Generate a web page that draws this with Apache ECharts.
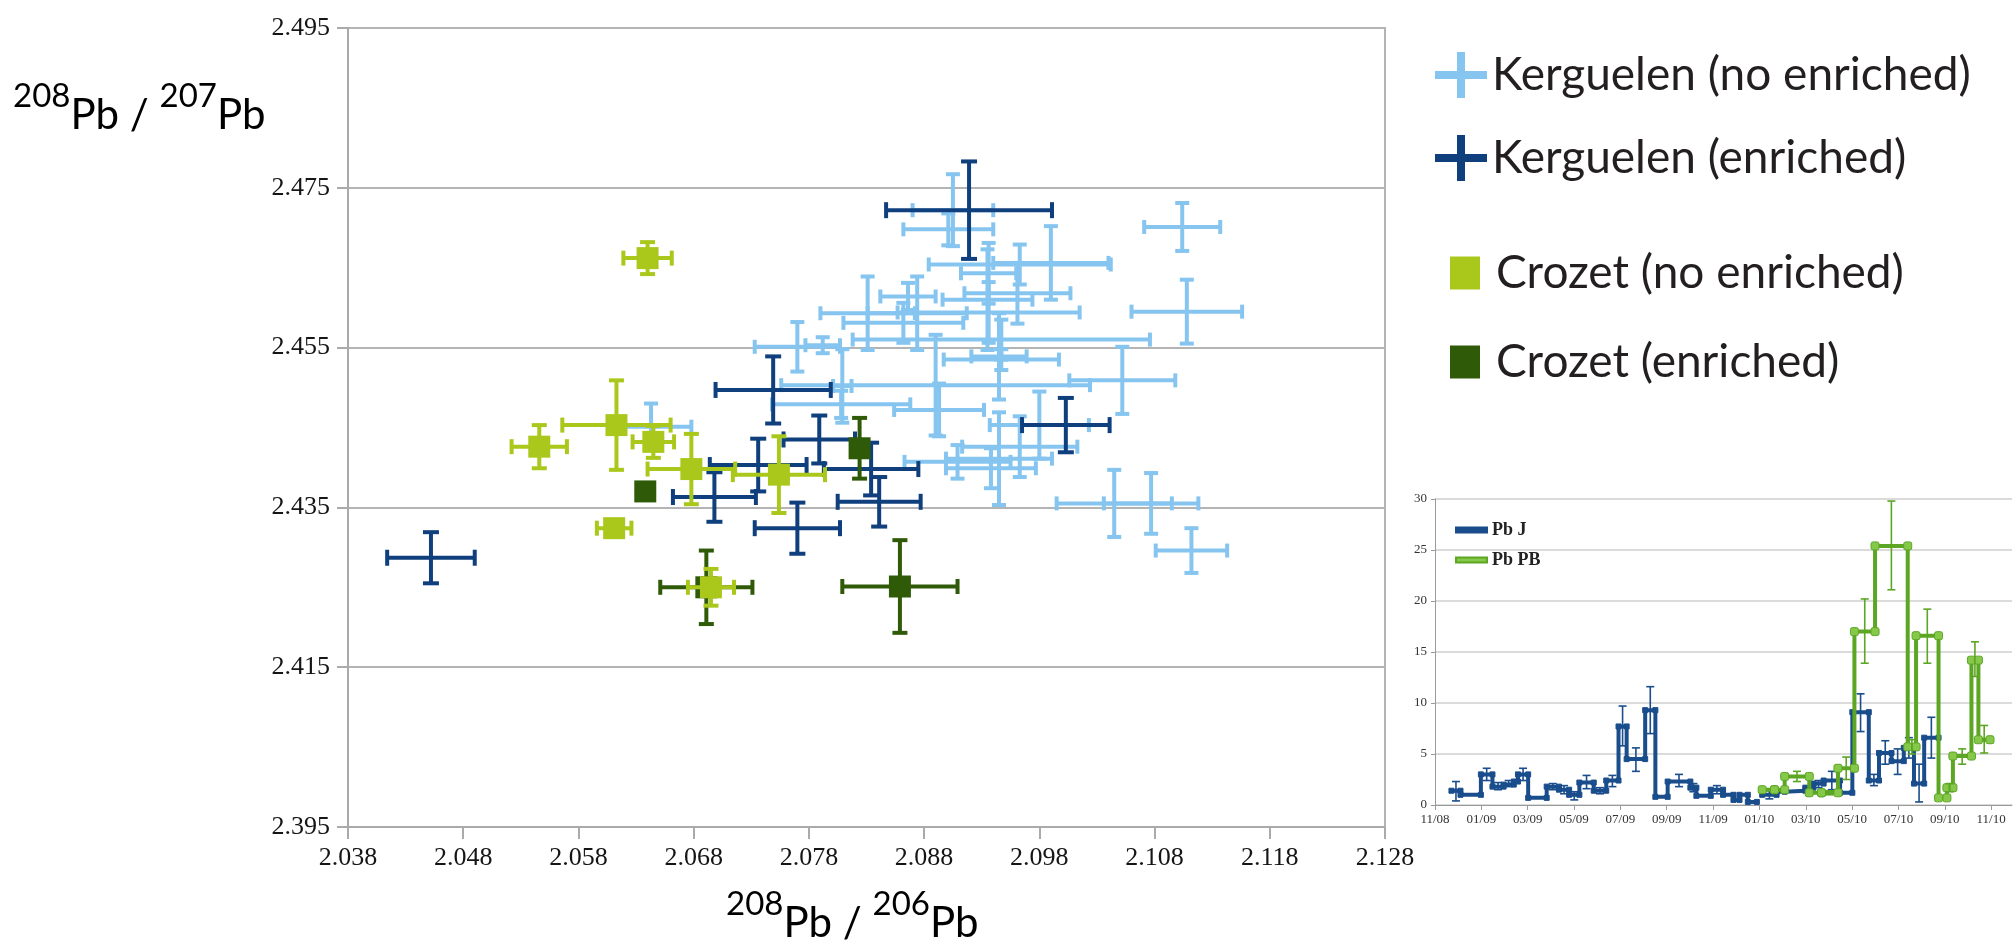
<!DOCTYPE html>
<html>
<head>
<meta charset="utf-8">
<title>Pb isotope ratios</title>
<script src="https://cdn.jsdelivr.net/npm/echarts@6.0.0/dist/echarts.min.js"></script>
<style>
html,body{margin:0;padding:0;background:#ffffff;}
#chart{width:2016px;height:944px;}
</style>
</head>
<body>
<div id="chart"></div>
<script>
// ---------------- main chart: 208Pb/206Pb (x) vs 208Pb/207Pb (y) ----------------
const xTickLabels = ['2.038','2.048','2.058','2.068','2.078','2.088','2.098','2.108','2.118','2.128'];
const yTickLabels = ['2.395','2.415','2.435','2.455','2.475','2.495'];

const kergNoX  = [2.0905,2.0901,2.0990,2.0963,2.0936,2.0935,2.0961,2.0866,2.0874,2.0831,2.0936,2.0862,2.0770,2.0792,2.0947,2.0945,2.0947,2.1052,2.0890,2.0809,2.0893,2.0808,2.0980,2.0963,2.0945,2.0938,2.1045,2.1077,2.0643,2.1104,2.1108,2.1112,2.0909];
const kergNoY  = [2.4722,2.4698,2.4656,2.4654,2.4643,2.4610,2.4618,2.4614,2.4593,2.4593,2.4594,2.4581,2.4551,2.4553,2.4560,2.4539,2.4535,2.4509,2.4503,2.4502,2.4472,2.4479,2.4453,2.4426,2.4411,2.4399,2.4355,2.4355,2.4451,2.4701,2.4595,2.4296,2.4407];
const kergNoEx = [0.0035,0.0039,0.0050,0.0079,0.0024,0.0039,0.0046,0.0024,0.0043,0.0041,0.0079,0.0052,0.0037,0.0015,0.0129,0.0024,0.0050,0.0046,0.0134,0.0008,0.0039,0.0060,0.0043,0.0050,0.0046,0.0039,0.0050,0.0041,0.0035,0.0033,0.0048,0.0031,0.0046];
const kergNoEy = [0.0045,0.0020,0.0046,0.0025,0.0038,0.0063,0.0038,0.0017,0.0046,0.0046,0.0038,0.0025,0.0031,0.0010,0.0025,0.0054,0.0013,0.0042,0.0063,0.0046,0.0033,0.0017,0.0042,0.0038,0.0058,0.0025,0.0042,0.0038,0.0029,0.0030,0.0040,0.0028,0.0021];

const kergEnX  = [2.0919,2.0749,2.1003,2.0789,2.0736,2.0834,2.0698,2.0841,2.0770,2.0452];
const kergEnY  = [2.4722,2.4497,2.4453,2.4435,2.4403,2.4398,2.4363,2.4357,2.4324,2.4287];
const kergEnEx = [0.0072,0.0050,0.0038,0.0031,0.0042,0.0041,0.0036,0.0036,0.0037,0.0038];
const kergEnEy = [0.0061,0.0042,0.0034,0.0030,0.0033,0.0033,0.0031,0.0031,0.0032,0.0032];

const crozNoX  = [2.0640,2.0546,2.0613,2.0611,2.0645,2.0678,2.0754,2.0695];
const crozNoY  = [2.4662,2.4426,2.4453,2.4324,2.4432,2.4398,2.4391,2.4250];
const crozNoEx = [0.0021,0.0024,0.0047,0.0015,0.0018,0.0038,0.0040,0.0020];
const crozNoEy = [0.0020,0.0027,0.0056,0.0000,0.0020,0.0044,0.0048,0.0023];

const crozEnX  = [2.0691,2.0859,2.0824,2.0638];
const crozEnY  = [2.4250,2.4251,2.4424,2.4370];
const crozEnEx = [0.0040,0.0050,0.0000,0.0000];
const crozEnEy = [0.0046,0.0058,0.0038,0.0000];

// ---------------- inset: Pb time series (months since 11/08) ----------------
const insetTickLabels = ['11/08','01/09','03/09','05/09','07/09','09/09','11/09','01/10','03/10','05/10','07/10','09/10','11/10'];

const pbjStart = [0.71,1.10,1.98,2.48,2.96,3.40,3.58,4.02,4.82,5.35,5.79,6.23,6.85,7.39,7.92,8.27,9.07,9.51,10.04,11.02,11.28,11.90,12.43,12.88,13.14,13.50,14.12,14.74,15.09,15.98,16.33,16.77,17.48,18.01,18.72,19.16,19.70,20.23,20.67,21.11];
const pbjEnd   = [1.10,1.98,2.48,2.96,3.40,3.58,4.02,4.82,5.35,5.79,6.23,6.85,7.39,7.92,8.27,9.07,9.51,10.04,11.02,11.28,11.90,12.43,12.88,13.14,13.50,13.89,14.74,15.09,15.98,16.33,16.77,17.48,18.01,18.72,19.16,19.70,20.23,20.67,21.11,21.73];
const pbjValue = [1.4,1.0,3.0,1.8,2.0,2.3,3.0,0.7,1.8,1.5,1.0,2.2,1.4,2.4,7.7,4.5,9.3,0.8,2.3,1.7,0.9,1.5,1.0,0.5,1.0,0.3,1.0,1.3,1.4,1.7,2.1,2.4,1.2,9.1,2.4,5.1,4.3,5.6,2.1,6.6];
const pbjLow   = [0.4,null,2.4,1.5,1.8,null,2.4,null,1.5,1.1,0.5,1.6,1.1,1.8,5.8,3.3,7.0,null,1.8,1.3,null,1.1,null,null,null,null,0.6,null,null,null,1.7,1.5,null,7.2,1.9,4.0,3.0,4.6,0.3,4.6];
const pbjHigh  = [2.3,null,3.6,2.2,2.4,null,3.6,null,2.1,1.9,1.3,2.9,1.7,2.9,9.7,5.6,11.6,null,3.0,2.1,null,1.9,null,null,null,null,1.4,null,null,null,2.4,3.3,null,10.9,3.0,6.3,5.5,6.6,4.0,8.6];

const pbpbStart = [14.12,14.65,15.09,16.15,16.68,17.39,18.10,18.99,20.40,20.76,21.73,22.09,22.35,23.15,23.45];
const pbpbEnd   = [14.65,15.09,16.15,16.68,17.39,18.10,18.99,20.40,20.76,21.73,22.09,22.35,23.15,23.45,23.95];
const pbpbValue = [1.5,1.5,2.8,1.2,1.2,3.6,17.0,25.4,5.7,16.6,0.7,1.7,4.8,14.2,6.4];
const pbpbLow   = [null,null,2.3,null,1.0,2.5,13.9,21.1,5.0,13.9,null,1.3,4.0,12.6,5.1];
const pbpbHigh  = [null,null,3.3,null,1.4,4.7,20.2,29.8,6.4,19.2,null,2.1,5.5,16.0,7.8];

// ---------------- helpers ----------------
const X0 = 2.038, Y0 = 2.395;            // axis origins (ratio units)
const toX = v => (v - X0) * 1000;        // axes work in thousandths from the origin
const toY = v => (v - Y0) * 1000;

const C_KNO = '#86c5ef', C_KEN = '#0f3f7c', C_CNO = '#aac81c', C_CEN = '#2f5b08';
const C_PBJ = '#1a4d8c', C_PBPB = '#5ca624';

function errorBarSeries(name, xs, ys, exs, eys, color, width, cap, z) {
  return {
    name: name, type: 'custom', xAxisIndex: 0, yAxisIndex: 0, z: z,
    itemStyle: { color: color },
    encode: { x: 0, y: 1 },
    data: xs.map((x, i) => [toX(x), toY(ys[i]), exs[i] * 1000, eys[i] * 1000]),
    renderItem: function (params, api) {
      const x = api.value(0), y = api.value(1), ex = api.value(2), ey = api.value(3);
      const st = { stroke: color, lineWidth: width };
      const kids = [];
      const seg = (a, b) => kids.push({ type: 'line', shape: { x1: a[0], y1: a[1], x2: b[0], y2: b[1] }, style: st });
      if (ex > 0) {
        const l = api.coord([x - ex, y]), r = api.coord([x + ex, y]);
        seg(l, r);
        seg([l[0], l[1] - cap / 2], [l[0], l[1] + cap / 2]);
        seg([r[0], r[1] - cap / 2], [r[0], r[1] + cap / 2]);
      }
      if (ey > 0) {
        const t = api.coord([x, y + ey]), b = api.coord([x, y - ey]);
        seg(t, b);
        seg([t[0] - cap / 2, t[1]], [t[0] + cap / 2, t[1]]);
        seg([b[0] - cap / 2, b[1]], [b[0] + cap / 2, b[1]]);
      }
      return { type: 'group', children: kids };
    }
  };
}

function squareSeries(name, xs, ys, color, z) {
  return {
    name: name, type: 'scatter', xAxisIndex: 0, yAxisIndex: 0, z: z,
    symbol: 'rect', symbolSize: 22,
    itemStyle: { color: color, opacity: 1 },
    data: xs.map((x, i) => [toX(x), toY(ys[i])])
  };
}

function stepRuns(starts, ends, vals) {
  const runs = []; let cur = [];
  for (let i = 0; i < starts.length; i++) {
    if (i > 0 && Math.abs(starts[i] - ends[i - 1]) > 0.05) { runs.push(cur); cur = []; }
    cur.push([starts[i], vals[i]], [ends[i], vals[i]]);
  }
  runs.push(cur);
  return runs;
}

function stepSeries(name, starts, ends, vals, color, symbol, symSize, symColor, z) {
  return stepRuns(starts, ends, vals).map(run => ({
    name: name, type: 'line', xAxisIndex: 1, yAxisIndex: 1, z: z,
    data: run, symbol: symbol, symbolSize: symSize, showSymbol: true,
    lineStyle: { color: color, width: 4 },
    itemStyle: { color: symColor, borderColor: color, borderWidth: 1 }
  }));
}

function insetErrSeries(name, starts, ends, lows, highs, color, z) {
  const data = [];
  starts.forEach((s, i) => { if (lows[i] != null) data.push([(s + ends[i]) / 2, lows[i], highs[i]]); });
  return {
    name: name, type: 'custom', xAxisIndex: 1, yAxisIndex: 1, z: z,
    itemStyle: { color: color },
    encode: { x: 0, y: [1, 2] },
    data: data,
    renderItem: function (params, api) {
      const x = api.value(0);
      const lo = api.coord([x, api.value(1)]), hi = api.coord([x, api.value(2)]);
      const st = { stroke: color, lineWidth: 1.6 };
      return { type: 'group', children: [
        { type: 'line', shape: { x1: lo[0], y1: lo[1], x2: hi[0], y2: hi[1] }, style: st },
        { type: 'line', shape: { x1: lo[0] - 4, y1: lo[1], x2: lo[0] + 4, y2: lo[1] }, style: st },
        { type: 'line', shape: { x1: hi[0] - 4, y1: hi[1], x2: hi[0] + 4, y2: hi[1] }, style: st }
      ]};
    }
  };
}

const plusIcon = 'path://M0,19H22V0H30V19H52V27H30V46H22V27H0Z';
const titleFont = 'Lato';
const titleRich = {
  s: { fontFamily: titleFont, fontSize: 33, color: '#231f20', verticalAlign: 'top', lineHeight: 33 },
  b: { fontFamily: titleFont, fontSize: 42, color: '#231f20', verticalAlign: 'bottom', lineHeight: 56 }
};

const chart = echarts.init(document.getElementById('chart'), null, { renderer: 'canvas' });

const option = {
  animation: false,
  backgroundColor: '#ffffff',
  textStyle: { fontFamily: 'Liberation Serif' },
  grid: [
    { left: 348, top: 28, width: 1037, height: 799, show: true, borderColor: '#b4b4b4', borderWidth: 2, backgroundColor: 'transparent' },
    { left: 1435, top: 499, width: 577, height: 306 }
  ],
  xAxis: [
    {
      type: 'value', gridIndex: 0, min: 0, max: 90, interval: 10,
      axisLine: { show: true, lineStyle: { color: '#aaaaaa', width: 2 } },
      axisTick: { show: true, length: 12, lineStyle: { color: '#aaaaaa', width: 2 } },
      splitLine: { show: false },
      axisLabel: { margin: 18, fontFamily: 'Liberation Serif', fontSize: 26, color: '#151515',
        formatter: v => xTickLabels[Math.round(v / 10)] }
    },
    {
      type: 'value', gridIndex: 1, min: 0, max: 24.9, interval: 2,
      axisLine: { show: true, lineStyle: { color: '#9a9a9a', width: 1 } },
      axisTick: { show: true, length: 5, lineStyle: { color: '#9a9a9a' } },
      splitLine: { show: false },
      axisLabel: { margin: 8, fontFamily: 'Liberation Serif', fontSize: 13, color: '#333333', showMaxLabel: false,
        formatter: v => { const k = v / 2; return Number.isInteger(k) && insetTickLabels[k] ? insetTickLabels[k] : ''; } }
    }
  ],
  yAxis: [
    {
      type: 'value', gridIndex: 0, min: 0, max: 100, interval: 20,
      axisLine: { show: true, lineStyle: { color: '#aaaaaa', width: 2 } },
      axisTick: { show: true, length: 11, lineStyle: { color: '#aaaaaa', width: 2 } },
      splitLine: { show: true, lineStyle: { color: '#b4b4b4', width: 2 } },
      axisLabel: { margin: 18, fontFamily: 'Liberation Serif', fontSize: 26, color: '#151515',
        formatter: v => yTickLabels[Math.round(v / 20)] }
    },
    {
      type: 'value', gridIndex: 1, min: 0, max: 30, interval: 5,
      axisLine: { show: true, lineStyle: { color: '#9a9a9a', width: 1 } },
      axisTick: { show: true, length: 4, lineStyle: { color: '#9a9a9a' } },
      splitLine: { show: true, lineStyle: { color: '#cfcfcf', width: 1.5 } },
      axisLabel: { margin: 8, fontFamily: 'Liberation Serif', fontSize: 13, color: '#333333' }
    }
  ],
  legend: [
    {
      selectedMode: false, orient: 'vertical', left: 1430, top: 47, itemGap: 37,
      itemWidth: 52, itemHeight: 46,
      textStyle: { fontFamily: titleFont, fontSize: 46, color: '#231f20' },
      data: [
        { name: 'Kerguelen (no enriched)', icon: plusIcon },
        { name: 'Kerguelen (enriched)', icon: plusIcon }
      ]
    },
    {
      selectedMode: false, orient: 'vertical', left: 1445, top: 245, itemGap: 43,
      itemWidth: 30, itemHeight: 33,
      textStyle: { fontFamily: titleFont, fontSize: 46, color: '#231f20', padding: [0, 0, 0, 11] },
      data: [
        { name: 'Crozet (no enriched)', icon: 'rect' },
        { name: 'Crozet (enriched)', icon: 'rect' }
      ]
    },
    {
      selectedMode: false, orient: 'vertical', left: 1450, top: 516, itemGap: 12,
      itemWidth: 31, itemHeight: 5, icon: 'rect',
      textStyle: { fontFamily: 'Liberation Serif', fontWeight: 'bold', fontSize: 18, color: '#222222' },
      data: ['Pb J', 'Pb PB']
    }
  ],
  graphic: [
    { type: 'text', left: 13, top: 80, silent: true,
      style: { text: '{s|208}{b|Pb / }{s|207}{b|Pb}', rich: titleRich, verticalAlign: 'top' } },
    { type: 'text', left: 726, top: 888, silent: true,
      style: { text: '{s|208}{b|Pb / }{s|206}{b|Pb}', rich: titleRich, verticalAlign: 'top' } }
  ],
  series: [
    errorBarSeries('Kerguelen (no enriched)', kergNoX, kergNoY, kergNoEx, kergNoEy, C_KNO, 4, 14, 2),
    errorBarSeries('Kerguelen (enriched)', kergEnX, kergEnY, kergEnEx, kergEnEy, C_KEN, 4, 16, 3),
    errorBarSeries('Crozet (enriched)', crozEnX, crozEnY, crozEnEx, crozEnEy, C_CEN, 4, 15, 4),
    squareSeries('Crozet (enriched)', crozEnX, crozEnY, C_CEN, 4),
    errorBarSeries('Crozet (no enriched)', crozNoX, crozNoY, crozNoEx, crozNoEy, C_CNO, 4, 15, 5),
    squareSeries('Crozet (no enriched)', crozNoX, crozNoY, C_CNO, 5),
    ...stepSeries('Pb J', pbjStart, pbjEnd, pbjValue, C_PBJ, 'rect', 5, C_PBJ, 3),
    insetErrSeries('Pb J', pbjStart, pbjEnd, pbjLow, pbjHigh, C_PBJ, 4),
    ...stepSeries('Pb PB', pbpbStart, pbpbEnd, pbpbValue, C_PBPB, 'roundRect', 8, '#86c84a', 5),
    insetErrSeries('Pb PB', pbpbStart, pbpbEnd, pbpbLow, pbpbHigh, C_PBPB, 6)
  ]
};

chart.setOption(option);
</script>
</body>
</html>
